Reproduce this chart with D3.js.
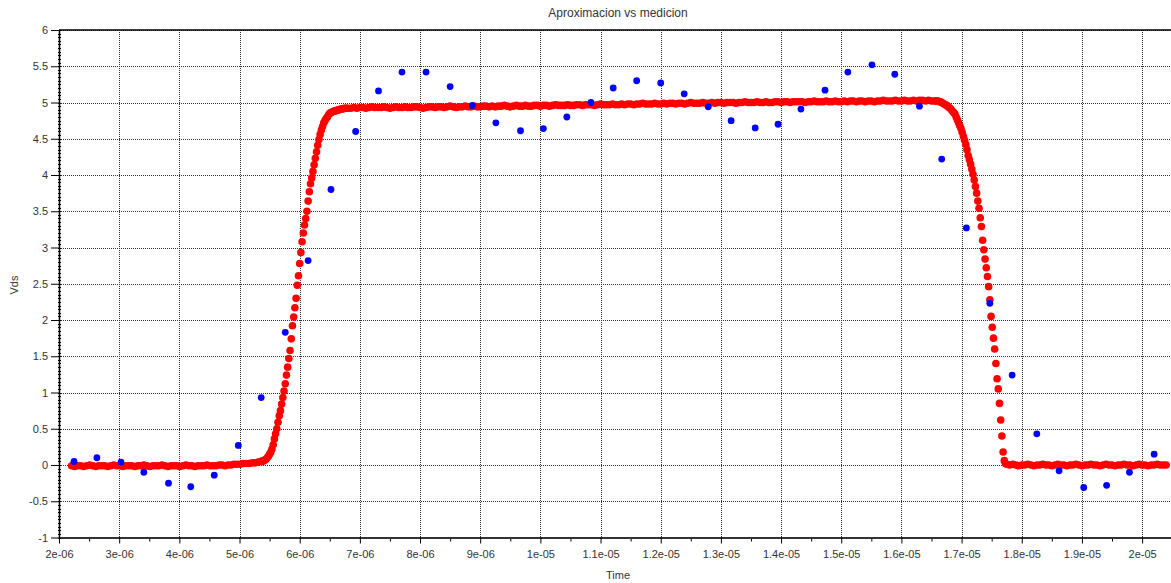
<!DOCTYPE html>
<html lang="es">
<head>
    <meta charset="utf-8" />
    <title> Aproximacion vs medicion </title>
    <script src="https://cdn.jsdelivr.net/npm/d3@7"></script>
    <style>
        body { margin: 0px; background: #fff; }
        text { font-family: "Liberation Sans", Arial, sans-serif; fill: #333; }
    </style>
</head>
<body>

<svg id="chart" width="1171" height="583"></svg>

<script>

    // tiempos en microsegundos, Vds en volts

    // medicion (puntos azules)
    var measTime = [2.25,2.63,3.03,3.41,3.82,4.19,4.58,4.98,5.36,5.76,6.14,6.52,6.93,7.31,7.70,8.10,
        8.50,8.87,9.26,9.67,10.05,10.44,10.84,11.21,11.60,12.00,12.39,12.79,13.17,13.57,13.95,14.33,
        14.73,15.11,15.51,15.89,16.30,16.67,17.08,17.47,17.84,18.25,18.62,19.03,19.41,19.79,20.20];
    var measVds = [0.05,0.10,0.04,-0.10,-0.25,-0.30,-0.14,0.27,0.93,1.83,2.82,3.80,4.60,5.16,5.42,5.42,
        5.22,4.96,4.72,4.61,4.64,4.80,5.00,5.20,5.30,5.27,5.12,4.94,4.75,4.65,4.70,4.91,
        5.17,5.42,5.52,5.39,4.95,4.22,3.27,2.23,1.24,0.43,-0.08,-0.31,-0.28,-0.10,0.15];

    // aproximacion (puntos rojos), por tramos: inicio, paso, valores
    var fitLowStart = 2.21, fitLowStep = 0.05;
    var fitLow = [-0.01,-0.02,-0.01,-0.01,-0.02,-0.01,0.00,-0.01,-0.02,-0.01,
        -0.01,-0.01,-0.02,-0.01,0.00,-0.01,-0.01,-0.02,-0.01,-0.01,
        -0.01,-0.02,-0.01,-0.01,0.00,-0.01,-0.02,-0.01,-0.01,-0.01,
        0.00,-0.01,-0.02,-0.01,-0.01,-0.01,-0.02,-0.01,0.00,-0.01,
        -0.01,-0.02,-0.01,-0.01,-0.01,0.00,-0.01,-0.01,-0.01,0.00,
        0.00,-0.01,0.00,0.00,0.01,0.01,0.01,0.02,0.02,0.02,
        0.03,0.03,0.04];

    var fitRiseStart = 5.36, fitRiseStep = 0.02;
    var fitRise = [0.05,0.05,0.06,0.07,0.08,0.10,0.12,0.15,0.18,0.22,
        0.28,0.36,0.43,0.50,0.59,0.68,0.75,0.84,0.93,1.02,
        1.12,1.24,1.35,1.47,1.58,1.74,1.92,2.04,2.17,2.30,
        2.48,2.61,2.78,2.93,3.08,3.20,3.31,3.40,3.50,3.64,
        3.77,3.88,3.96,4.05,4.14,4.23,4.32,4.41,4.49,4.56,
        4.62,4.67,4.72,4.75,4.78,4.80,4.83,4.85,4.86,4.87,
        4.88,4.88,4.89,4.89,4.90,4.90,4.91,4.91,4.91,4.92,
        4.92,4.92,4.92];

    var fitHighStart = 6.85, fitHighStep = 0.05;
    var fitHigh = [4.92,4.93,4.92,4.93,4.93,4.92,4.93,4.94,4.93,4.93,
        4.93,4.94,4.93,4.92,4.93,4.94,4.93,4.93,4.94,4.93,
        4.93,4.94,4.94,4.93,4.92,4.93,4.94,4.94,4.93,4.94,
        4.94,4.93,4.94,4.95,4.94,4.93,4.94,4.94,4.95,4.94,
        4.94,4.95,4.94,4.94,4.95,4.95,4.94,4.95,4.94,4.95,
        4.95,4.96,4.95,4.94,4.95,4.96,4.95,4.95,4.96,4.95,
        4.95,4.96,4.96,4.95,4.96,4.96,4.95,4.96,4.97,4.96,
        4.96,4.96,4.97,4.96,4.96,4.97,4.97,4.96,4.97,4.97,
        4.97,4.96,4.97,4.98,4.97,4.97,4.97,4.98,4.97,4.97,
        4.98,4.97,4.98,4.98,4.97,4.98,4.98,4.99,4.98,4.98,
        4.98,4.99,4.98,4.98,4.99,4.98,4.99,4.99,4.98,4.99,
        4.99,4.98,4.99,5.00,4.99,4.99,4.99,5.00,4.99,4.99,
        5.00,4.99,5.00,5.00,4.99,5.00,5.00,5.00,4.99,5.00,
        5.00,5.01,5.00,5.00,5.00,5.01,5.00,5.00,5.01,5.00,
        5.00,5.01,5.01,5.00,5.01,5.01,5.00,5.01,5.01,5.01,
        5.01,5.00,5.01,5.01,5.02,5.01,5.01,5.01,5.02,5.01,
        5.01,5.02,5.01,5.01,5.02,5.01,5.02,5.02,5.01,5.02,
        5.02,5.01,5.02,5.02,5.01,5.02,5.02,5.03,5.02,5.02,
        5.02,5.03,5.02,5.02,5.03,5.02,5.02,5.03,5.02,5.03,
        5.03,5.02,5.03,5.02,5.02];

    var fitFallStart = 16.57, fitFallStep = 0.02;
    var fitFall = [5.02,5.02,5.02,5.01,5.01,5.00,4.99,4.98,4.97,4.96,
        4.95,4.93,4.92,4.90,4.88,4.86,4.84,4.80,4.76,4.72,
        4.68,4.64,4.59,4.53,4.48,4.42,4.35,4.27,4.21,4.15,
        4.08,4.01,3.93,3.84,3.75,3.64,3.54,3.41,3.29,3.10,
        2.97,2.84,2.72,2.60,2.46,2.28,2.05,1.90,1.75,1.60,
        1.40,1.19,1.05,0.85,0.62,0.40,0.18,0.06,0.02,0.01];

    var fitTailStart = 17.80, fitTailStep = 0.05;
    var fitTail = [0.00,0.01,0.00,-0.01,0.00,0.00,0.01,0.00,-0.01,0.00,
        0.00,0.01,0.00,0.00,-0.01,0.00,0.01,0.00,0.00,-0.01,
        0.00,0.00,0.01,0.00,-0.01,0.00,0.00,0.01,0.00,0.00,
        -0.01,0.00,0.01,0.00,0.00,-0.01,0.00,0.00,0.01,0.00,
        0.00,-0.01,0.00,0.01,0.00,0.00,-0.01,0.00,0.00,0.01,
        0.00,0.00,0.00];

    var xTicks = [2,3,4,5,6,7,8,9,10,11,12,13,14,15,16,17,18,19,20];
    var xTickLabels = ['2e-06','3e-06','4e-06','5e-06','6e-06','7e-06','8e-06','9e-06','1e-05',
        '1.1e-05','1.2e-05','1.3e-05','1.4e-05','1.5e-05','1.6e-05','1.7e-05','1.8e-05','1.9e-05','2e-05'];
    var yTicks = [-1,-0.5,0,0.5,1,1.5,2,2.5,3,3.5,4,4.5,5,5.5,6];
    var yTickLabels = ['-1','-0.5','0','0.5','1','1.5','2','2.5','3','3.5','4','4.5','5','5.5','6'];


    function main() {

        var svg = d3.select('#chart');

        var left = 59, top = 30, bottom = 537.5, right = 1177;

        var x = d3.scaleLinear().domain([2, 20.58]).range([left, right]);
        var y = d3.scaleLinear().domain([-1, 6]).range([bottom, top]);

        // armar la serie roja a partir de los tramos
        var fit = [];
        function addSegment(start, step, values) {
            values.forEach(function(v, i) {
                fit.push({t: start + i * step, v: v});
            });
        }
        addSegment(fitLowStart, fitLowStep, fitLow);
        addSegment(fitRiseStart, fitRiseStep, fitRise);
        addSegment(fitHighStart, fitHighStep, fitHigh);
        addSegment(fitFallStart, fitFallStep, fitFall);
        addSegment(fitTailStart, fitTailStep, fitTail);

        var meas = measTime.map(function(t, i) { return {t: t, v: measVds[i]}; });

        //grilla punteada
        var grid = svg.append('g').attr('class', 'grid');

        grid.selectAll('line.gx')
            .data(xTicks)
            .enter().append('line')
            .attr('class', 'gx')
            .attr('x1', function(d) { return Math.round(x(d)) + 0.5; })
            .attr('x2', function(d) { return Math.round(x(d)) + 0.5; })
            .attr('y1', top)
            .attr('y2', bottom)
            .style('stroke', '#333')
            .style('stroke-dasharray', '1,1')
            .style('shape-rendering', 'crispEdges');

        grid.selectAll('line.gy')
            .data(yTicks)
            .enter().append('line')
            .attr('class', 'gy')
            .attr('x1', left)
            .attr('x2', right)
            .attr('y1', function(d) { return Math.round(y(d)) + 0.5; })
            .attr('y2', function(d) { return Math.round(y(d)) + 0.5; })
            .style('stroke', '#333')
            .style('stroke-dasharray', '1,1')
            .style('shape-rendering', 'crispEdges');

        // borde superior
        svg.append('line')
            .attr('x1', left).attr('x2', right)
            .attr('y1', top).attr('y2', top)
            .style('stroke', '#000')
            .style('stroke-width', 1.5);

        //eje x
        var minorX = d3.range(2.5, 20.6, 1);
        svg.append('g')
            .attr('transform', 'translate(0,' + bottom + ')')
            .call(d3.axisBottom(x).tickValues(minorX).tickSize(4).tickFormat(''))
            .call(function(g) { g.select('.domain').remove(); });

        var gx = svg.append('g')
            .attr('transform', 'translate(0,' + bottom + ')')
            .call(d3.axisBottom(x)
                .tickValues(xTicks)
                .tickFormat(function(d, i) { return xTickLabels[i]; })
                .tickSize(6)
                .tickSizeOuter(0)
                .tickPadding(7));
        gx.select('.domain').style('stroke', '#333').style('stroke-width', 2);
        gx.selectAll('text').style('font-size', '11px').style('fill', '#333');

        //eje y
        var minorY = d3.range(-1, 6.001, 0.05);
        svg.append('g').selectAll('line')
            .data(minorY)
            .enter().append('line')
            .attr('x1', left - 1.5)
            .attr('x2', left + 1.5)
            .attr('y1', function(d) { return Math.round(y(d)) + 0.5; })
            .attr('y2', function(d) { return Math.round(y(d)) + 0.5; })
            .style('stroke', '#000')
            .style('shape-rendering', 'crispEdges');

        var gy = svg.append('g')
            .attr('transform', 'translate(' + left + ',0)')
            .call(d3.axisLeft(y)
                .tickValues(yTicks)
                .tickFormat(function(d, i) { return yTickLabels[i]; })
                .tickSize(8)
                .tickSizeOuter(0)
                .tickPadding(3));
        gy.select('.domain').style('stroke', '#000').style('stroke-width', 1.5);
        gy.selectAll('text').style('font-size', '11px').style('fill', '#333');

        // puntos rojos (aproximacion)
        svg.append('g').selectAll('circle')
            .data(fit)
            .enter().append('circle')
            .attr('cx', function(d) { return x(d.t); })
            .attr('cy', function(d) { return y(d.v); })
            .attr('r', 3.8)
            .style('fill', '#ff0000');

        // puntos azules (medicion)
        svg.append('g').selectAll('circle')
            .data(meas)
            .enter().append('circle')
            .attr('cx', function(d) { return x(d.t); })
            .attr('cy', function(d) { return y(d.v); })
            .attr('r', 3.4)
            .style('fill', '#0000ff');

        //titulos
        svg.append('text')
            .attr('x', 618).attr('y', 17)
            .attr('text-anchor', 'middle')
            .style('font-size', '12px')
            .text('Aproximacion vs medicion');

        svg.append('text')
            .attr('x', 618).attr('y', 579)
            .attr('text-anchor', 'middle')
            .style('font-size', '11px')
            .text('Time');

        svg.append('text')
            .attr('transform', 'translate(18,285) rotate(-90)')
            .attr('text-anchor', 'middle')
            .style('font-size', '11px')
            .text('Vds');
    }

    main();

</script>

</body>
</html>
